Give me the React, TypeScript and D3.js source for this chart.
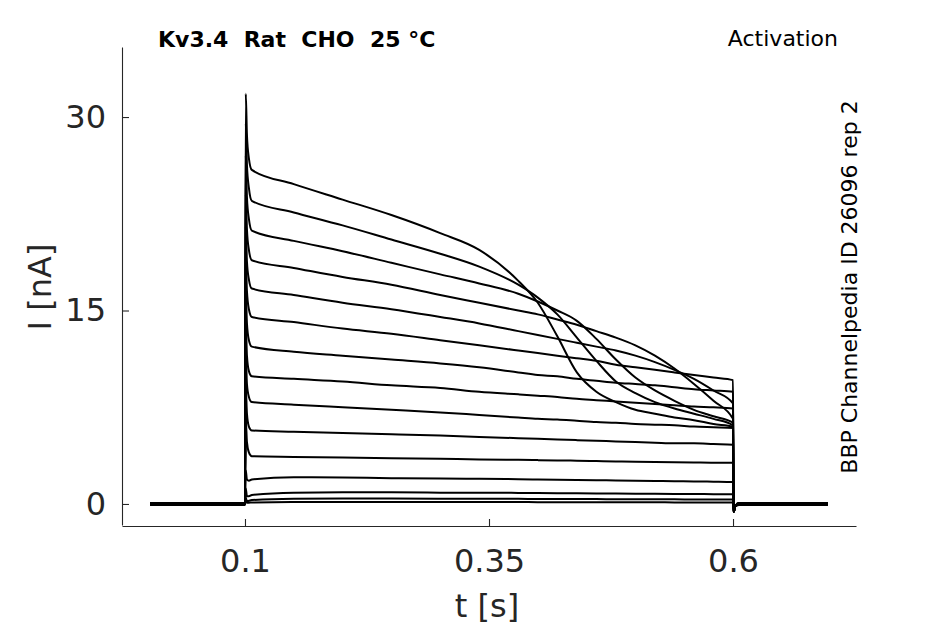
import React, { useRef, useEffect } from "react";
import * as d3 from "d3";

// time points (s) of each sweep during the 0.1 - 0.6 s step
const sweepTimes = [
  0.1008, 0.102, 0.104, 0.107, 0.15, 0.2, 0.25, 0.3, 0.34, 0.38, 0.4, 0.42,
  0.44, 0.46, 0.48, 0.5, 0.52, 0.54, 0.56, 0.58, 0.6,
];
const holdingTimes = [0.003, 0.1];
const tailTimes = [0.6005, 0.6025, 0.606, 0.697];
const tailCurrents = [-0.6, -0.15, 0, 0];

// baseline offsets of the sweeps (nA)
const holdingCurrents = [
  0.08, 0.05, -0.06, 0.02, -0.03, 0.07, -0.08, 0.0, 0.04, -0.05, 0.06, -0.02,
  0.03, -0.07, 0.01,
];

// currents (nA) at sweepTimes, one array per sweep
const sweep1 = [31.8, 28.6, 26.8, 25.9, 24.8, 23.6, 22.4, 21.0, 19.7, 17.3, 15.6, 13.0, 10.2, 8.7, 7.9, 7.3, 7.0, 6.7, 6.5, 6.2, 6.0];
const sweep2 = [29.5, 26.3, 24.5, 23.5, 22.6, 21.6, 20.5, 19.4, 18.4, 17.0, 16.0, 14.7, 12.9, 11.1, 9.5, 8.6, 7.9, 7.4, 7.0, 6.6, 6.1];
const sweep3 = [27.0, 23.8, 22.1, 21.2, 20.4, 19.6, 18.7, 17.8, 17.1, 16.3, 15.7, 15.0, 14.2, 12.8, 11.2, 9.8, 8.8, 8.0, 7.3, 6.8, 6.3];
const sweep4 = [24.0, 21.3, 19.7, 18.9, 18.3, 17.6, 17.0, 16.2, 15.6, 15.0, 14.7, 14.3, 13.9, 13.4, 12.9, 12.3, 11.5, 10.5, 9.3, 8.0, 6.6];
const sweep5 = [21.5, 18.8, 17.4, 16.7, 16.2, 15.6, 15.1, 14.5, 14.0, 13.4, 13.1, 12.8, 12.5, 12.2, 11.9, 11.5, 11.0, 10.4, 9.7, 8.8, 7.8];
const sweep6 = [19.0, 16.5, 15.1, 14.5, 14.1, 13.6, 13.2, 12.7, 12.3, 11.9, 11.7, 11.5, 11.3, 11.1, 10.8, 10.6, 10.4, 10.2, 10.0, 9.8, 9.6];
const sweep7 = [16.5, 14.0, 12.7, 12.2, 11.8, 11.5, 11.2, 10.9, 10.6, 10.2, 10.0, 9.9, 9.7, 9.55, 9.4, 9.3, 9.2, 9.05, 8.9, 8.8, 8.7];
const sweep8 = [14.0, 11.5, 10.3, 9.9, 9.7, 9.5, 9.2, 9.0, 8.7, 8.5, 8.4, 8.3, 8.15, 8.05, 7.95, 7.85, 7.75, 7.65, 7.55, 7.5, 7.4];
const sweep9 = [11.5, 9.3, 8.3, 7.9, 7.7, 7.5, 7.3, 7.1, 6.9, 6.7, 6.6, 6.55, 6.45, 6.35, 6.3, 6.2, 6.15, 6.1, 6.0, 5.95, 5.9];
const sweep10 = [9.0, 7.0, 6.0, 5.7, 5.6, 5.5, 5.4, 5.3, 5.2, 5.1, 5.05, 5.0, 4.95, 4.9, 4.85, 4.8, 4.75, 4.7, 4.7, 4.65, 4.6];
const sweep11 = [6.5, 4.8, 4.0, 3.7, 3.65, 3.6, 3.55, 3.5, 3.45, 3.42, 3.4, 3.38, 3.36, 3.33, 3.3, 3.28, 3.26, 3.24, 3.22, 3.2, 3.2];
const sweep12 = [2.6, 1.9, 1.8, 1.9, 2.07, 2.05, 2.0, 1.98, 1.95, 1.92, 1.9, 1.88, 1.86, 1.84, 1.82, 1.8, 1.78, 1.76, 1.75, 1.73, 1.7];
const sweep13 = [1.2, 0.6, 0.6, 0.7, 0.88, 0.9, 0.9, 0.88, 0.87, 0.86, 0.85, 0.84, 0.83, 0.82, 0.81, 0.8, 0.79, 0.78, 0.77, 0.76, 0.75];
const sweep14 = [0.5, 0.2, 0.25, 0.3, 0.4, 0.42, 0.42, 0.41, 0.4, 0.4, 0.39, 0.39, 0.38, 0.38, 0.37, 0.37, 0.36, 0.36, 0.35, 0.35, 0.35];
const sweep15 = [0.3, 0.1, 0.1, 0.12, 0.15, 0.16, 0.16, 0.15, 0.15, 0.15, 0.14, 0.14, 0.14, 0.13, 0.13, 0.13, 0.13, 0.12, 0.12, 0.12, 0.12];

const sweeps = [
  sweep1, sweep2, sweep3, sweep4, sweep5, sweep6, sweep7, sweep8,
  sweep9, sweep10, sweep11, sweep12, sweep13, sweep14, sweep15,
];

const xTicks = [0.1, 0.35, 0.6];
const xTickLabels = ["0.1", "0.35", "0.6"];
const yTicks = [0, 15, 30];
const yTickLabels = ["0", "15", "30"];

const title = "Kv3.4  Rat  CHO  25 °C";
const protocolName = "Activation";
const sourceNote = "BBP Channelpedia ID 26096 rep 2";

interface Point {
  t: number;
  i: number;
}

const width = 945;
const height = 624;
const FONT = "'DejaVu Sans', sans-serif";
const INK = "#262626";

const App: React.FC = () => {
  const svgRef = useRef<SVGSVGElement | null>(null);

  useEffect(() => {
    const svg = d3.select(svgRef.current);
    svg.selectAll("*").remove();

    const margin = { top: 47, right: 89, bottom: 99, left: 122 };
    const innerWidth = width - margin.left - margin.right;
    const innerHeight = height - margin.top - margin.bottom;

    const xScale = d3.scaleLinear().domain([-0.026, 0.726]).range([0, innerWidth]);
    const yScale = d3.scaleLinear().domain([-1.63, 35.43]).range([innerHeight, 0]);

    const g = svg
      .append("g")
      .attr("transform", `translate(${margin.left},${margin.top})`);

    const line = d3
      .line<Point>()
      .x((d) => xScale(d.t))
      .y((d) => yScale(d.i))
      .curve(d3.curveMonotoneX);

    // Sweeps
    sweeps.forEach((values, k) => {
      const pts: Point[] = [];
      holdingTimes.forEach((t) => pts.push({ t, i: holdingCurrents[k] }));
      sweepTimes.forEach((t, j) => pts.push({ t, i: values[j] }));
      tailTimes.forEach((t, j) =>
        pts.push({ t, i: tailCurrents[j] + (j >= 2 ? holdingCurrents[k] : 0) })
      );
      g.append("path")
        .datum(pts)
        .attr("fill", "none")
        .attr("stroke", "#000")
        .attr("stroke-width", 2)
        .attr("stroke-linejoin", "round")
        .attr("d", line);
    });

    // X axis (ticks inside)
    const xAxis = d3
      .axisBottom(xScale)
      .tickValues(xTicks)
      .tickFormat((_, i) => xTickLabels[i])
      .tickSizeInner(-7)
      .tickSizeOuter(0)
      .tickPadding(23);
    const gx = g
      .append("g")
      .attr("transform", `translate(0,${innerHeight + 1})`)
      .call(xAxis);
    gx.selectAll("path, line").attr("stroke", INK).attr("stroke-width", 1.1);
    gx.selectAll("text")
      .attr("fill", INK)
      .style("font-family", FONT)
      .style("font-size", "32px");

    // Y axis (ticks inside)
    const yAxis = d3
      .axisLeft(yScale)
      .tickValues(yTicks)
      .tickFormat((_, i) => yTickLabels[i])
      .tickSizeInner(-7)
      .tickSizeOuter(0)
      .tickPadding(16);
    const gy = g.append("g").call(yAxis);
    gy.selectAll("path, line").attr("stroke", INK).attr("stroke-width", 1.1);
    gy.selectAll("text")
      .attr("fill", INK)
      .style("font-family", FONT)
      .style("font-size", "32px");

    // Axis labels
    svg
      .append("text")
      .attr("x", 487)
      .attr("y", 617)
      .attr("text-anchor", "middle")
      .attr("fill", INK)
      .style("font-family", FONT)
      .style("font-size", "32px")
      .text("t [s]");

    svg
      .append("text")
      .attr("transform", `translate(51,287) rotate(-90)`)
      .attr("text-anchor", "middle")
      .attr("fill", INK)
      .style("font-family", FONT)
      .style("font-size", "32px")
      .text("I [nA]");

    // Header texts
    svg
      .append("text")
      .attr("x", 158)
      .attr("y", 47)
      .attr("fill", "#000")
      .style("font-family", FONT)
      .style("font-weight", "bold")
      .style("font-size", "22px")
      .style("white-space", "pre")
      .text(title);

    svg
      .append("text")
      .attr("x", 838)
      .attr("y", 46)
      .attr("text-anchor", "end")
      .attr("fill", "#000")
      .style("font-family", FONT)
      .style("font-size", "22px")
      .text(protocolName);

    svg
      .append("text")
      .attr("transform", `translate(857,287) rotate(-90)`)
      .attr("text-anchor", "middle")
      .attr("fill", "#000")
      .style("font-family", FONT)
      .style("font-size", "22px")
      .text(sourceNote);
  }, []);

  return (
    <svg
      ref={svgRef}
      width={width}
      height={height}
      style={{ position: "absolute", left: 0, top: 0, background: "#fff" }}
    />
  );
};

export default App;
